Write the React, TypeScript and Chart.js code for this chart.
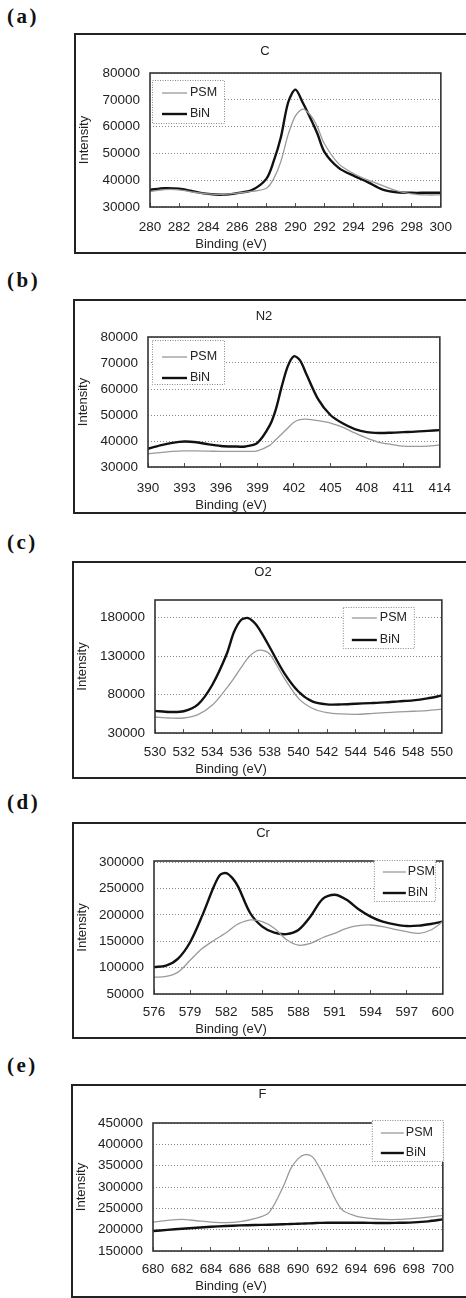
import { useEffect, useRef } from "react";
import { Chart, registerables } from "chart.js";

Chart.register(...registerables);

const FONT = '"Liberation Sans", Arial, sans-serif';

// ---- (a) C ----
const cEnergy = [280, 281, 282, 283, 284, 285, 286, 287, 288, 288.5, 289, 289.5, 290, 290.5, 291, 291.5, 292, 293, 294, 295, 296, 297, 298, 299, 300];
const cPSM = [35800, 36500, 36400, 35500, 34900, 34700, 35200, 35800, 37000, 40500, 47000, 57000, 64000, 66500, 64500, 60000, 53500, 46000, 42500, 40000, 38000, 36000, 34900, 34500, 34500];
const cBiN = [36400, 37000, 36800, 35800, 34900, 34600, 35200, 36300, 40500, 47000, 56000, 69000, 73800, 69000, 63500, 57500, 50500, 44500, 41700, 39200, 36500, 35500, 35300, 35300, 35300];
const cXTicks = [280, 282, 284, 286, 288, 290, 292, 294, 296, 298, 300];
const cYTicks = [30000, 40000, 50000, 60000, 70000, 80000];

// ---- (b) N2 ----
const nEnergy = [390, 391, 392, 393, 394, 395, 396, 397, 398, 399, 400, 400.5, 401, 401.5, 402, 402.5, 403, 404, 405, 406, 407, 408, 409, 410, 411, 412, 413, 414];
const nPSM = [35100, 35500, 36000, 36200, 36200, 36100, 36000, 36000, 36000, 36200, 38300, 40500, 42700, 45000, 47200, 48200, 48400, 47800, 46900, 45300, 43100, 41100, 39500, 38700, 38000, 37900, 38000, 38500];
const nBiN = [37000, 38300, 39300, 39800, 39500, 38700, 38100, 37900, 37900, 39300, 45900, 52000, 61000, 68800, 72600, 71000, 66000, 56000, 50000, 46800, 44600, 43400, 43100, 43200, 43400, 43600, 43900, 44200];
const nXTicks = [390, 393, 396, 399, 402, 405, 408, 411, 414];
const nYTicks = [30000, 40000, 50000, 60000, 70000, 80000];

// ---- (c) O2 ----
const oEnergy = [530, 531, 532, 533, 534, 535, 535.5, 536, 536.5, 537, 537.5, 538, 539, 540, 541, 542, 543, 544, 545, 546, 547, 548, 549, 550];
const oPSM = [50800, 49500, 49500, 53900, 66300, 88400, 101000, 115000, 128000, 136000, 137500, 132700, 101700, 75100, 61900, 56500, 54800, 54300, 55200, 56500, 57400, 58300, 59200, 61000];
const oBiN = [58800, 57400, 58300, 67200, 92800, 132700, 161000, 177000, 179500, 172000, 158000, 141500, 108300, 84000, 70700, 67200, 67200, 68100, 68900, 69800, 71200, 72500, 75100, 78700];
const oXTicks = [530, 532, 534, 536, 538, 540, 542, 544, 546, 548, 550];
const oYTicks = [30000, 80000, 130000, 180000];

// ---- (d) Cr ----
const crEnergy = [576, 577, 578, 579, 580, 581, 581.5, 582, 582.5, 583, 584, 585, 586, 587, 588, 589, 590, 591, 592, 593, 594, 595, 596, 597, 598, 599, 600];
const crPSM = [81900, 83200, 91500, 113800, 136100, 152000, 159000, 166100, 175000, 182700, 190300, 187100, 174400, 153300, 142500, 145700, 156600, 164900, 174400, 179500, 180700, 177600, 172400, 168000, 164900, 171200, 187100];
const crBiN = [101000, 103600, 117000, 148000, 198000, 255000, 276000, 279000, 270000, 253000, 203000, 177600, 166100, 163500, 171200, 196700, 229800, 238100, 228600, 210700, 196700, 187100, 182000, 178800, 179500, 182700, 187100];
const crXTicks = [576, 579, 582, 585, 588, 591, 594, 597, 600];
const crYTicks = [50000, 100000, 150000, 200000, 250000, 300000];

// ---- (e) F ----
const fEnergy = [680, 681, 682, 683, 684, 685, 686, 687, 688, 689, 689.5, 690, 690.5, 691, 691.5, 692, 693, 694, 695, 696, 697, 698, 699, 700];
const fPSM = [217800, 221700, 224000, 220900, 217800, 216300, 218600, 225600, 240000, 302000, 342500, 366000, 376000, 370600, 344800, 312000, 248000, 231800, 226400, 224000, 224000, 226400, 229500, 233400];
const fBiN = [196800, 199500, 202200, 204600, 206900, 208500, 210000, 210800, 211600, 212700, 213300, 213900, 214500, 215200, 215800, 216300, 216300, 216300, 216000, 215500, 216200, 217000, 219500, 224000];
const fXTicks = [680, 682, 684, 686, 688, 690, 692, 694, 696, 698, 700];
const fYTicks = [150000, 200000, 250000, 300000, 350000, 400000, 450000];

const seriesNames = ["PSM", "BiN"];

type Panel = {
  letter: string;
  letterY: number;
  title: string;
  titleY: number;
  energy: number[];
  psm: number[];
  bin: number[];
  xTicks: number[];
  yTicks: number[];
  yMax: number;
  box: { left: number; top: number; bottom: number };
  plot: { left: number; right: number; top: number; bottom: number };
  labelY: number;
  captionY: number;
  legend: { align: string; dx: number; dy: number; w: number; h: number; rows: number[]; sample: number[] };
};

const panels: Panel[] = [
  {
    letter: "(a)", letterY: 16, title: "C", titleY: 51,
    energy: cEnergy, psm: cPSM, bin: cBiN, xTicks: cXTicks, yTicks: cYTicks, yMax: 80000,
    box: { left: 75, top: 34, bottom: 253 },
    plot: { left: 150, right: 454, top: 73, bottom: 207 },
    labelY: 227, captionY: 244,
    legend: { align: "left", dx: 2, dy: 7, w: 73, h: 44, rows: [13, 34], sample: [10, 35, 38] },
  },
  {
    letter: "(b)", letterY: 280, title: "N2", titleY: 316,
    energy: nEnergy, psm: nPSM, bin: nBiN, xTicks: nXTicks, yTicks: nYTicks, yMax: 80000,
    box: { left: 74, top: 300, bottom: 513 },
    plot: { left: 148, right: 453, top: 337, bottom: 467 },
    labelY: 488, captionY: 505,
    legend: { align: "left", dx: 4, dy: 3, w: 73, h: 45, rows: [17, 38], sample: [10, 35, 38] },
  },
  {
    letter: "(c)", letterY: 542, title: "O2", titleY: 572,
    energy: oEnergy, psm: oPSM, bin: oBiN, xTicks: oXTicks, yTicks: oYTicks, yMax: 203000,
    box: { left: 73, top: 562, bottom: 778 },
    plot: { left: 155, right: 452, top: 600, bottom: 733 },
    labelY: 752, captionY: 769,
    legend: { align: "right", dx: 27, dy: 7, w: 72, h: 42, rows: [11, 33], sample: [9, 34, 37] },
  },
  {
    letter: "(d)", letterY: 802, title: "Cr", titleY: 833,
    energy: crEnergy, psm: crPSM, bin: crBiN, xTicks: crXTicks, yTicks: crYTicks, yMax: 302000,
    box: { left: 73, top: 823, bottom: 1038 },
    plot: { left: 154, right: 452, top: 861, bottom: 994 },
    labelY: 1012, captionY: 1029,
    legend: { align: "right", dx: 7, dy: -1, w: 62, h: 42, rows: [12, 33], sample: [9, 32, 34] },
  },
  {
    letter: "(e)", letterY: 1065, title: "F", titleY: 1094,
    energy: fEnergy, psm: fPSM, bin: fBiN, xTicks: fXTicks, yTicks: fYTicks, yMax: 450000,
    box: { left: 72, top: 1085, bottom: 1297 },
    plot: { left: 153, right: 452, top: 1123, bottom: 1251 },
    labelY: 1269, captionY: 1286,
    legend: { align: "right", dx: -1, dy: -3, w: 72, h: 42, rows: [13, 33], sample: [9, 32, 34] },
  },
];

// plot area frame drawn over the curves
const frame = {
  id: "frame",
  afterDatasetsDraw(chart: any) {
    const { ctx, chartArea: a } = chart;
    ctx.save();
    ctx.strokeStyle = "#333";
    ctx.lineWidth = 1.6;
    ctx.strokeRect(a.left, a.top, a.right - a.left, a.bottom - a.top);
    ctx.restore();
  },
};

// Excel-style legend box inside the plot
const boxLegend = {
  id: "boxLegend",
  afterDraw(chart: any, _args: any, opts: any) {
    const { ctx, chartArea: a } = chart;
    const x = opts.align === "right" ? a.right - opts.dx - opts.w : a.left + opts.dx;
    const y = a.top + opts.dy;
    ctx.save();
    ctx.fillStyle = "#fff";
    ctx.fillRect(x, y, opts.w, opts.h);
    ctx.setLineDash([1, 1.5]);
    ctx.strokeStyle = "#888";
    ctx.lineWidth = 1;
    ctx.strokeRect(x + 0.5, y + 0.5, opts.w - 1, opts.h - 1);
    ctx.setLineDash([]);
    ctx.font = `12.5px ${FONT}`;
    ctx.textBaseline = "middle";
    ctx.textAlign = "left";
    chart.data.datasets.forEach((ds: any, i: number) => {
      const ry = y + opts.rows[i];
      ctx.strokeStyle = ds.borderColor;
      ctx.lineWidth = ds.borderWidth;
      ctx.beginPath();
      ctx.moveTo(x + opts.sample[0], ry);
      ctx.lineTo(x + opts.sample[1], ry);
      ctx.stroke();
      ctx.fillStyle = "#222";
      ctx.fillText(ds.label, x + opts.sample[2], ry);
    });
    ctx.restore();
  },
};

// x axis caption, placed like the original (not centred under the plot)
const xCaption = {
  id: "xCaption",
  afterDraw(chart: any, _args: any, opts: any) {
    const { ctx } = chart;
    ctx.save();
    ctx.font = `13px ${FONT}`;
    ctx.fillStyle = "#222";
    ctx.textAlign = "center";
    ctx.textBaseline = "middle";
    ctx.fillText(opts.text, opts.x, opts.y);
    ctx.restore();
  },
};

function XpsPanel({ p }: { p: Panel }) {
  const canvasRef = useRef<HTMLCanvasElement | null>(null);
  const cx0 = p.box.left + 1;
  const cy0 = p.box.top + 1;
  const cw = 468 - cx0;
  const ch = p.box.bottom - p.box.top - 2;

  useEffect(() => {
    const titleLine = 13 * 1.2;
    const padTop = p.titleY - cy0 - titleLine / 2;
    const padBottom = p.plot.top - cy0 - titleLine - padTop;
    const tickPad = p.labelY - p.plot.bottom + 4 - (13.5 * 1.2) / 2;

    const chart = new Chart(canvasRef.current!, {
      type: "line",
      data: {
        datasets: [
          {
            label: seriesNames[0],
            data: p.energy.map((e, i) => ({ x: e, y: p.psm[i] })),
            borderColor: "#9a9a9a",
            borderWidth: 1.3,
            pointRadius: 0,
            tension: 0.3,
          },
          {
            label: seriesNames[1],
            data: p.energy.map((e, i) => ({ x: e, y: p.bin[i] })),
            borderColor: "#111",
            borderWidth: 2.4,
            pointRadius: 0,
            tension: 0.3,
          },
        ],
      },
      options: {
        animation: false,
        responsive: false,
        layout: { padding: { left: 0, top: 0, bottom: 0, right: cx0 + cw - p.plot.right } },
        plugins: {
          legend: { display: false },
          tooltip: { enabled: false },
          title: {
            display: true,
            text: p.title,
            color: "#222",
            font: { family: FONT, size: 13, weight: "normal" },
            padding: { top: padTop, bottom: padBottom },
          },
          boxLegend: p.legend,
          xCaption: { text: "Binding (eV)", x: 231 - cx0, y: p.captionY - cy0 },
        } as any,
        scales: {
          x: {
            type: "linear",
            min: p.xTicks[0],
            max: p.xTicks[p.xTicks.length - 1],
            afterBuildTicks: (s: any) => {
              s.ticks = p.xTicks.map((v) => ({ value: v }));
            },
            afterFit: (s: any) => {
              s.height = cy0 + ch - p.plot.bottom;
            },
            grid: { drawOnChartArea: false, drawTicks: true, tickLength: -4, color: "#555" },
            border: { display: false },
            ticks: {
              autoSkip: false,
              maxRotation: 0,
              padding: tickPad,
              color: "#222",
              font: { family: FONT, size: 13.5 },
              callback: (v: any) => String(v),
            },
          },
          y: {
            type: "linear",
            min: p.yTicks[0],
            max: p.yMax,
            afterBuildTicks: (s: any) => {
              s.ticks = p.yTicks.map((v) => ({ value: v }));
            },
            afterFit: (s: any) => {
              s.width = p.plot.left - cx0;
            },
            grid: { color: "#8a8a8a", drawTicks: false, lineWidth: 1 },
            border: { display: false, dash: [1, 2] },
            ticks: {
              padding: 10,
              color: "#222",
              font: { family: FONT, size: 13.5 },
              callback: (v: any) => String(v),
            },
            title: {
              display: true,
              text: "Intensity",
              color: "#222",
              font: { family: FONT, size: 13 },
              padding: { top: 1, bottom: 0 },
            },
          },
        },
      },
      plugins: [frame, boxLegend, xCaption],
    });
    return () => chart.destroy();
  }, [p]);

  return (
    <>
      <div
        style={{
          position: "absolute",
          left: 7,
          top: p.letterY - 12,
          font: 'bold 21px "Liberation Serif", serif',
          letterSpacing: 2.5,
          lineHeight: "24px",
          color: "#111",
        }}
      >
        {p.letter}
      </div>
      <div
        style={{
          position: "absolute",
          left: p.box.left - 1,
          top: p.box.top - 1,
          width: 480 - p.box.left,
          height: p.box.bottom - p.box.top + 2,
          border: "2px solid #222",
          boxSizing: "border-box",
        }}
      >
        <canvas ref={canvasRef} width={cw} height={ch} style={{ display: "block", width: cw, height: ch }} />
      </div>
    </>
  );
}

export default function App() {
  return (
    <div
      style={{
        position: "absolute",
        left: 0,
        top: 0,
        width: 466,
        height: 1298,
        overflow: "hidden",
        background: "#fff",
      }}
    >
      {panels.map((p) => (
        <XpsPanel key={p.letter} p={p} />
      ))}
    </div>
  );
}
